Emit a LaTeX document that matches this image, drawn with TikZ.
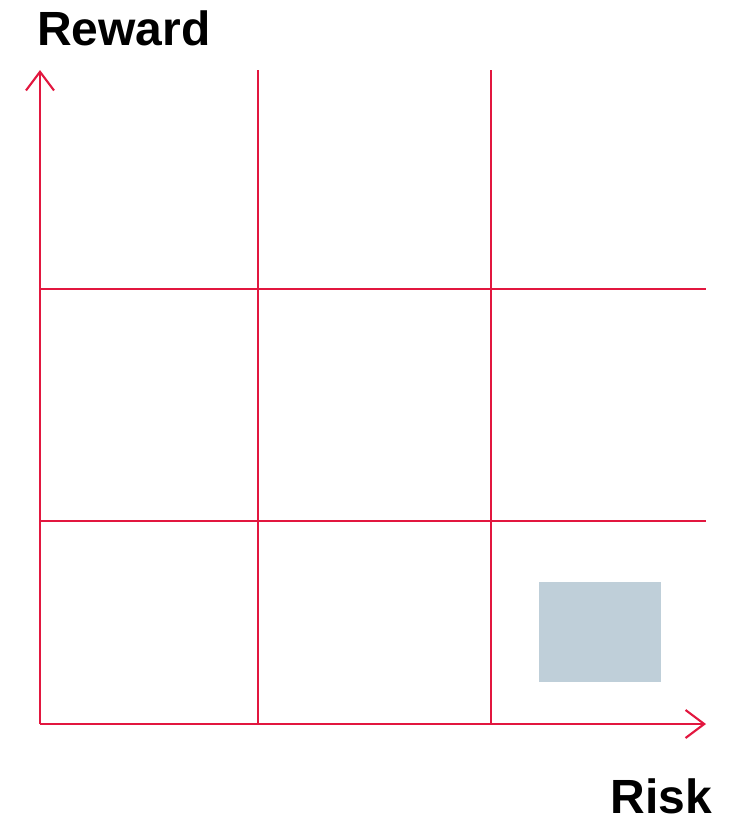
\documentclass[tikz,border=0pt]{standalone}
\usepackage{fontspec}
\setmainfont{Liberation Sans}
\usetikzlibrary{arrows.meta}
\definecolor{gridRed}{HTML}{E2173F}
\definecolor{boxBlue}{HTML}{BFCFD9}
\tikzset{
  axis arrow/.style={-{Straight Barb[length=14pt,width=21pt,line width=1.6pt]},line width=1.5pt,draw=gridRed},
  grid line/.style={line width=0.85pt,draw=gridRed},
  axis label/.style={font=\fontsize{36}{40}\selectfont\bfseries,inner sep=0pt},
}

\begin{document}
\begin{tikzpicture}[x=0.75pt,y=-0.75pt]
  \useasboundingbox (0,0) rectangle (733,819);

  % axes
  \coordinate (origin) at (40,724);
  \coordinate (ytip) at (40,70);
  \coordinate (xtip) at (706,724);

  % grid ends
  \coordinate (v1top) at (258,70);  \coordinate (v1bot) at (258,724);
  \coordinate (v2top) at (491,70);  \coordinate (v2bot) at (491,724);
  \coordinate (h1left) at (40,289); \coordinate (h1right) at (706,289);
  \coordinate (h2left) at (40,521); \coordinate (h2right) at (706,521);

  \fill[boxBlue] (539,582) rectangle (661,682);

  \draw[grid line] (v1bot) -- (v1top);
  \draw[grid line] (v2bot) -- (v2top);
  \draw[grid line] (h1left) -- (h1right);
  \draw[grid line] (h2left) -- (h2right);

  \draw[axis arrow] (origin) -- (ytip);
  \draw[axis arrow] (origin) -- (xtip);

  \node[axis label,anchor=base west] (reward) at (37,45) {Reward};
  \node[axis label,anchor=base east] (risk) at (712,813) {Risk};

\end{tikzpicture}
\end{document}
